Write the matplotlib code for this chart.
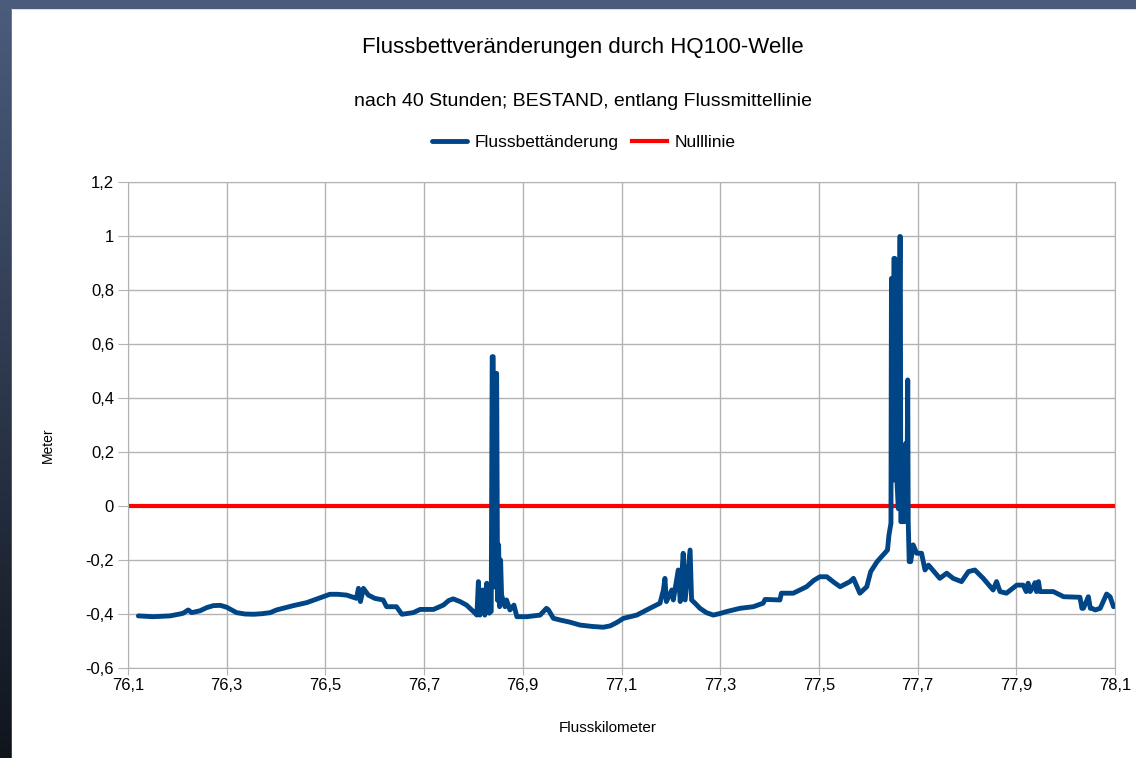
import numpy as np
import matplotlib.pyplot as plt
from matplotlib.patches import Rectangle

plt.rcParams['font.family'] = ['Liberation Sans', 'DejaVu Sans']

# Flusskilometer / Flussbettaenderung [m]
km = [76.121, 76.151, 76.185, 76.205, 76.212, 76.222, 76.229, 76.246, 76.260, 76.273, 76.287, 76.300, 76.310, 76.320,
      76.337, 76.354, 76.371, 76.388, 76.401, 76.418, 76.435, 76.462, 76.489, 76.509, 76.525, 76.543, 76.563, 76.567,
      76.571, 76.577, 76.587, 76.600, 76.617, 76.624, 76.644, 76.655, 76.678, 76.692,
      76.719, 76.739, 76.750, 76.759, 76.773, 76.786, 76.800, 76.807, 76.810, 76.813, 76.819,
      76.823, 76.827, 76.832, 76.836, 76.838, 76.840, 76.842, 76.845, 76.847, 76.849,
      76.851, 76.853, 76.855, 76.857, 76.864, 76.867, 76.874, 76.882, 76.888, 76.908,
      76.935, 76.948, 76.952, 76.962, 76.975, 76.995, 77.016, 77.040, 77.063, 77.077, 77.090, 77.104, 77.131,
      77.151, 77.178, 77.185, 77.188, 77.191, 77.202, 77.205, 77.215, 77.219, 77.225,
      77.229, 77.239, 77.242, 77.249, 77.259, 77.272, 77.286, 77.300, 77.313, 77.340, 77.367, 77.387,
      77.391, 77.421, 77.424, 77.448, 77.475, 77.490, 77.502, 77.516, 77.530, 77.543, 77.563, 77.570,
      77.583, 77.597, 77.605, 77.618, 77.639, 77.642, 77.646, 77.647, 77.649, 77.650,
      77.652, 77.654, 77.656, 77.658, 77.661, 77.664, 77.665, 77.666, 77.670, 77.673,
      77.676, 77.678, 77.680, 77.681, 77.683, 77.686, 77.691, 77.698, 77.703, 77.708,
      77.715, 77.722, 77.725, 77.745, 77.759, 77.772, 77.789, 77.803, 77.816, 77.833,
      77.853, 77.860, 77.867, 77.880, 77.901, 77.914, 77.920, 77.924, 77.928, 77.934,
      77.938, 77.941, 77.945, 77.948, 77.975, 77.996, 78.029, 78.033, 78.036, 78.046,
      78.050, 78.053, 78.060, 78.070, 78.083, 78.090, 78.097]
change = [-0.407, -0.410, -0.407, -0.400, -0.397, -0.385, -0.395, -0.388, -0.376, -0.369, -0.368, -0.375, -0.385, -0.395,
          -0.400, -0.401, -0.399, -0.395, -0.385, -0.377, -0.369, -0.358, -0.340, -0.327, -0.327, -0.330, -0.342, -0.305,
          -0.354, -0.305, -0.330, -0.342, -0.348, -0.373, -0.373, -0.401, -0.395, -0.383,
          -0.383, -0.367, -0.350, -0.344, -0.354, -0.367, -0.391, -0.404, -0.280, -0.404, -0.311,
          -0.404, -0.286, -0.397, -0.390, 0.553, 0.553, -0.300, 0.491, 0.491, -0.350,
          -0.144, -0.373, -0.200, -0.330, -0.373, -0.348, -0.385, -0.367, -0.410, -0.410,
          -0.404, -0.379, -0.385, -0.416, -0.422, -0.430, -0.441, -0.446, -0.449, -0.444, -0.432, -0.416, -0.404,
          -0.385, -0.360, -0.311, -0.268, -0.354, -0.311, -0.348, -0.237, -0.354, -0.175,
          -0.348, -0.163, -0.348, -0.360, -0.379, -0.395, -0.404, -0.398, -0.391, -0.379, -0.373, -0.360,
          -0.346, -0.348, -0.323, -0.323, -0.299, -0.275, -0.262, -0.262, -0.282, -0.299, -0.280, -0.268,
          -0.323, -0.299, -0.243, -0.206, -0.163, -0.107, -0.064, 0.843, 0.096, 0.096,
          0.917, 0.917, 0.096, 0.096, -0.010, 0.998, 0.998, -0.058, -0.058, -0.058,
          0.232, -0.050, 0.467, -0.060, -0.206, -0.206, -0.144, -0.175, -0.175, -0.175,
          -0.237, -0.219, -0.225, -0.268, -0.249, -0.268, -0.280, -0.243, -0.237, -0.268,
          -0.311, -0.280, -0.317, -0.323, -0.293, -0.293, -0.317, -0.286, -0.317, -0.300,
          -0.284, -0.317, -0.280, -0.317, -0.317, -0.336, -0.338, -0.379, -0.379, -0.336,
          -0.379, -0.379, -0.385, -0.379, -0.326, -0.336, -0.373]

x_ticks = [76.1, 76.3, 76.5, 76.7, 76.9, 77.1, 77.3, 77.5, 77.7, 77.9, 78.1]
y_ticks = [-0.6, -0.4, -0.2, 0, 0.2, 0.4, 0.6, 0.8, 1, 1.2]


def de(v):
    s = ('%.1f' % v).replace('.', ',')
    if s.endswith(',0'):
        s = s[:-2]
    return '0' if s == '-0' else s


fig = plt.figure(figsize=(11.36, 7.58), dpi=100)

# dark screen border at left and top
bg = fig.add_axes([0, 0, 1, 1], zorder=-10)
grad = np.linspace(0, 1, 256).reshape(-1, 1)
top_c = np.array([0x4b, 0x5c, 0x7d]) / 255
bot_c = np.array([0x10, 0x15, 0x1d]) / 255
img = top_c[None, None, :] * (1 - grad[:, :, None]) + bot_c[None, None, :] * grad[:, :, None]
bg.imshow(img, extent=[0, 1, 0, 1], aspect='auto', origin='upper')
bg.add_patch(Rectangle((12 / 1136, 0), 1, 1 - 8 / 758, color='white'))
bg.add_patch(Rectangle((12 / 1136, 1 - 8 / 758), 1, 8 / 758, color='#4a5b7b'))
bg.set_xlim(0, 1)
bg.set_ylim(0, 1)
bg.axis('off')

ax = fig.add_axes([128 / 1136, 1 - 668 / 758, (1115 - 128) / 1136, (668 - 182) / 758])
ax.plot(km, change, color='#004586', lw=3.5, solid_joinstyle='round', solid_capstyle='round',
        label='Flussbettänderung', zorder=3)
ax.axhline(0, color='#ff0000', lw=3, label='Nulllinie', zorder=2)

ax.set_xlim(76.1, 78.1)
ax.set_ylim(-0.6, 1.2)
ax.set_xticks(x_ticks)
ax.set_yticks(y_ticks)
ax.set_xticklabels([de(v) for v in x_ticks], fontsize=12)
ax.set_yticklabels([de(v) for v in y_ticks], fontsize=12)
ax.grid(True, color='#b3b3b3', lw=1)
ax.set_axisbelow(True)
for s in ax.spines.values():
    s.set_color('#b3b3b3')
ax.tick_params(axis='y', length=7, color='#b3b3b3', pad=3)
ax.tick_params(axis='x', length=5, color='#b3b3b3', pad=2)

fig.text(48 / 1136, 1 - 445 / 758, 'Meter', rotation=90, fontsize=10, ha='center', va='center')
fig.text(608 / 1136, 1 - 728 / 758, 'Flusskilometer', fontsize=11, ha='center', va='center')
fig.text(583 / 1136, 1 - 48 / 758, 'Flussbettveränderungen durch HQ100-Welle', fontsize=16, ha='center', va='center')
fig.text(583 / 1136, 1 - 101 / 758, 'nach 40 Stunden; BESTAND, entlang Flussmittellinie', fontsize=14, ha='center', va='center')

fig.legend(loc='center', bbox_to_anchor=(584 / 1136, 1 - 142 / 758), ncol=2, frameon=False,
           fontsize=12.5, handlelength=2.0, handletextpad=0.45, columnspacing=0.8)

fig.savefig('out.png', dpi=100)
